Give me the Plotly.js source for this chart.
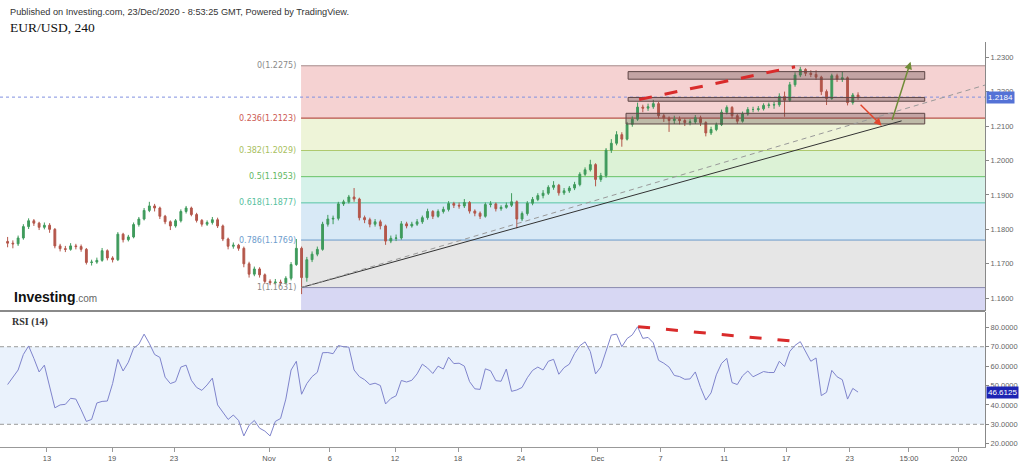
<!DOCTYPE html>
<html><head><meta charset="utf-8">
<script src="https://cdn.plot.ly/plotly-3.0.1.min.js"></script>
<style>html,body{margin:0;padding:0;background:#fff;overflow:hidden}#chart{width:1024px;height:464px}</style>
</head><body><div id="chart"></div>
<script>
// ---- Data (8h sessions, EUR/USD) ----
const opens=[1.1765,1.1760,1.1758,1.1775,1.1808,1.1825,1.1818,1.1806,1.1812,1.1800,
1.1752,1.1744,1.1742,1.1752,1.1750,1.1742,1.1704,1.1705,1.1710,1.1738,
1.1717,1.1712,1.1786,1.1770,1.1778,1.1814,1.1830,1.1855,1.1868,1.1862,
1.1838,1.1822,1.1810,1.1825,1.1852,1.1862,1.1843,1.1826,1.1815,1.1820,
1.1828,1.1810,1.1772,1.1751,1.1754,1.1745,1.1700,1.1670,1.1685,1.1668,
1.1649,1.1645,1.1647,1.1645,1.1658,1.1698,1.1745,1.1660,1.1712,1.1728,
1.1742,1.1815,1.1830,1.1832,1.1874,1.1880,1.1894,1.1888,1.1834,1.1828,
1.1815,1.1822,1.1810,1.1766,1.1774,1.1775,1.1816,1.1810,1.1815,1.1822,
1.1834,1.1852,1.1838,1.1852,1.1858,1.1875,1.1870,1.1868,1.1878,1.1853,
1.1847,1.1838,1.1872,1.1874,1.1860,1.1864,1.1870,1.1880,1.1830,1.1846,
1.1876,1.1887,1.1898,1.1905,1.1922,1.1928,1.1906,1.1912,1.1920,1.1930,
1.1960,1.1973,1.1988,1.1945,1.1956,1.2030,1.2050,1.2075,1.2062,1.2105,
1.2120,1.2155,1.2152,1.2156,1.2165,1.2130,1.2123,1.2116,1.2120,1.2116,
1.2110,1.2112,1.2124,1.2110,1.2080,1.2090,1.2104,1.2140,1.2154,1.2130,
1.2114,1.2135,1.2148,1.2148,1.2150,1.2160,1.2161,1.2162,1.2186,1.2175,
1.2220,1.2248,1.2264,1.2253,1.2250,1.2242,1.2200,1.2180,1.2246,1.2236,
1.2240,1.2168,1.2190];
const closes=[1.1760,1.1758,1.1775,1.1808,1.1825,1.1818,1.1806,1.1812,1.1800,1.1752,
1.1744,1.1742,1.1752,1.1750,1.1742,1.1704,1.1705,1.1710,1.1738,1.1717,
1.1712,1.1786,1.1770,1.1778,1.1814,1.1830,1.1855,1.1868,1.1862,1.1838,
1.1822,1.1810,1.1825,1.1852,1.1862,1.1843,1.1826,1.1815,1.1820,1.1828,
1.1810,1.1772,1.1751,1.1754,1.1745,1.1700,1.1670,1.1685,1.1668,1.1649,
1.1645,1.1647,1.1645,1.1658,1.1698,1.1745,1.1660,1.1712,1.1728,1.1742,
1.1815,1.1830,1.1832,1.1874,1.1880,1.1894,1.1888,1.1834,1.1828,1.1815,
1.1822,1.1810,1.1766,1.1774,1.1775,1.1816,1.1810,1.1815,1.1822,1.1834,
1.1852,1.1838,1.1852,1.1858,1.1875,1.1870,1.1868,1.1878,1.1853,1.1847,
1.1838,1.1872,1.1874,1.1860,1.1864,1.1870,1.1880,1.1830,1.1846,1.1876,
1.1887,1.1898,1.1905,1.1922,1.1928,1.1906,1.1912,1.1920,1.1930,1.1960,
1.1973,1.1988,1.1945,1.1956,1.2030,1.2050,1.2075,1.2062,1.2105,1.2120,
1.2155,1.2152,1.2156,1.2165,1.2130,1.2123,1.2116,1.2120,1.2116,1.2110,
1.2112,1.2124,1.2110,1.2080,1.2090,1.2104,1.2140,1.2154,1.2130,1.2114,
1.2135,1.2148,1.2148,1.2150,1.2160,1.2161,1.2162,1.2186,1.2175,1.2220,
1.2248,1.2264,1.2253,1.2250,1.2242,1.2200,1.2180,1.2246,1.2236,1.2240,
1.2168,1.2190,1.2184];
const highs=[1.1778,1.1768,1.1782,1.1815,1.1832,1.1830,1.1822,1.1820,1.1818,1.1804,
1.1758,1.1752,1.1760,1.1758,1.1756,1.1746,1.1712,1.1718,1.1746,1.1742,
1.1722,1.1792,1.1790,1.1784,1.1820,1.1836,1.1862,1.1880,1.1874,1.1866,
1.1842,1.1826,1.1830,1.1858,1.1868,1.1866,1.1848,1.1830,1.1826,1.1836,
1.1834,1.1814,1.1776,1.1762,1.1758,1.1750,1.1706,1.1692,1.1690,1.1672,
1.1655,1.1656,1.1654,1.1664,1.1705,1.1772,1.1750,1.1720,1.1736,1.1750,
1.1822,1.1842,1.1840,1.1880,1.1886,1.1900,1.1920,1.1892,1.1840,1.1834,
1.1830,1.1828,1.1814,1.1782,1.1785,1.1824,1.1822,1.1822,1.1830,1.1840,
1.1860,1.1856,1.1858,1.1866,1.1882,1.1880,1.1878,1.1888,1.1882,1.1858,
1.1852,1.1878,1.1882,1.1878,1.1870,1.1878,1.1905,1.1884,1.1852,1.1882,
1.1894,1.1905,1.1914,1.1928,1.1940,1.1932,1.1920,1.1926,1.1938,1.1966,
1.1980,1.2002,1.1992,1.1964,1.2036,1.2062,1.2085,1.2082,1.2112,1.2128,
1.2168,1.2162,1.2165,1.2176,1.2170,1.2136,1.2128,1.2130,1.2128,1.2122,
1.2120,1.2132,1.2130,1.2114,1.2098,1.2110,1.2148,1.2160,1.2158,1.2135,
1.2142,1.2155,1.2156,1.2158,1.2166,1.2168,1.2170,1.2195,1.2200,1.2228,
1.2256,1.2272,1.2268,1.2262,1.2262,1.2246,1.2206,1.2252,1.2252,1.2258,
1.2244,1.2196,1.2198];
const lows=[1.1748,1.1745,1.1752,1.1770,1.1801,1.1810,1.1798,1.1800,1.1790,1.1745,
1.1736,1.1734,1.1738,1.1742,1.1735,1.1698,1.1695,1.1700,1.1706,1.1710,
1.1704,1.1708,1.1762,1.1765,1.1774,1.1808,1.1826,1.1850,1.1852,1.1830,
1.1815,1.1798,1.1805,1.1820,1.1846,1.1838,1.1820,1.1808,1.1810,1.1814,
1.1804,1.1766,1.1742,1.1744,1.1738,1.1690,1.1660,1.1664,1.1660,1.1642,
1.1638,1.1640,1.1636,1.1640,1.1652,1.1694,1.1612,1.1648,1.1705,1.1722,
1.1738,1.1808,1.1815,1.1826,1.1868,1.1875,1.1880,1.1826,1.1818,1.1806,
1.1808,1.1800,1.1755,1.1760,1.1766,1.1770,1.1803,1.1805,1.1810,1.1816,
1.1828,1.1830,1.1834,1.1846,1.1852,1.1862,1.1860,1.1862,1.1846,1.1838,
1.1830,1.1834,1.1864,1.1852,1.1854,1.1860,1.1865,1.1803,1.1824,1.1840,
1.1870,1.1882,1.1890,1.1900,1.1915,1.1898,1.1900,1.1906,1.1914,1.1925,
1.1955,1.1968,1.1925,1.1938,1.1950,1.2022,1.2044,1.2040,1.2058,1.2098,
1.2115,1.2140,1.2144,1.2150,1.2122,1.2112,1.2083,1.2106,1.2105,1.2100,
1.2102,1.2106,1.2100,1.2070,1.2074,1.2085,1.2100,1.2134,1.2122,1.2106,
1.2110,1.2130,1.2140,1.2142,1.2145,1.2152,1.2150,1.2156,1.2127,1.2170,
1.2214,1.2242,1.2245,1.2242,1.2234,1.2190,1.2161,1.2176,1.2228,1.2228,
1.2160,1.2162,1.2176];
const rsi=[50.5,54,58,66,70.4,64,57,60.5,50,38.5,
40,40.3,43.4,43,37.5,31.5,32.5,41,41.8,42,
51,63.5,57.5,62,69.2,71.3,76.5,71.7,66,64.5,
54.3,51,52,59.5,60.5,52.7,49,47.5,50.3,53.8,
40,36,32.5,34.8,32,24,29.5,32,28,26.5,
24,31.5,33,43,58,62.5,45.5,51,54.6,56.8,
66.9,67,66.4,70.6,70,69.8,58,54.6,53,50.5,
51.2,50,40.5,43.3,44.7,52.6,51.8,52.7,56,61,
59,56.2,60,58.5,64.6,61.3,61.5,60,52,48.3,
48,58.6,57.6,52.5,52.2,58.5,47,47.7,49,54,
57.8,59.5,58,62.5,63.5,55.8,59.2,61,66.5,70.5,
72.5,67.5,56,59.5,67.5,76,76.5,70,74.2,76.1,
80.3,74.3,74.8,72,63,61.5,59.5,55.2,54.6,53.2,
53.4,57,49,42.5,46.2,55.5,61.4,64,51.5,50.5,
55,57.5,54.5,55.8,57.2,56.7,56.7,62.5,59.8,67.6,
70.7,72.6,67.5,62.5,64.2,44.8,46.5,57.8,54.5,53,
43,48.5,46.6125];
const tickIdx=[7.5,19.9,31.7,49.8,61.4,73.8,85.8,97.8,112.4,124.4,136.5,148.3,160.4,171.7,181.2];
const tickText=['13','19','23','Nov','6','12','18','24','Dec','7','11','17','23','15:00','2020'];
const priceTicks=[1.16,1.17,1.18,1.19,1.20,1.21,1.22,1.23];
const rsiTicks=[20,30,40,50,60,70,80];
const fibRatios=['0','0.236','0.382','0.5','0.618','0.786','1'];
const fibPrices=[1.2275,1.2123,1.2029,1.1953,1.1877,1.1769,1.1631];
const lastPrice=1.2184;

// ---- Styling / drawing anchors ----
const xRange=[-1.45,186.2], priceRange=[1.1563,1.2344], rsiRange=[18.3,87.9];
const fibStart=55.9;
const fibFills=['#f5d2d2','#eef4d8','#dcf2d6','#d6f2ea','#d8e9f6','#e6e6e6','#d7d7f3'];
const fibLines=['#a58a8a','#b9534b','#aec96e','#66c266','#55c4a4','#6a9acb','#8a8aae'];
const fibText=['#8a8a8a','#cc5a52','#a8c060','#62b862','#58bf9e','#6d9ccd','#8a8a8a'];
const idx=closes.map((_,i)=>i);

const traces=[
 {type:'candlestick',x:idx,open:opens,high:highs,low:lows,close:closes,xaxis:'x',yaxis:'y',
  increasing:{line:{color:'#3f9b5c',width:1},fillcolor:'#3f9b5c'},
  decreasing:{line:{color:'#b4574b',width:1},fillcolor:'#b4574b'},
  whiskerwidth:0,hoverinfo:'skip',showlegend:false},
 {type:'scatter',mode:'lines',x:idx,y:rsi,xaxis:'x2',yaxis:'y2',
  line:{color:'#7f84cc',width:1},hoverinfo:'skip',showlegend:false}
];

const shapes=[];
fibPrices.forEach((p,k)=>{
  const bot=k<fibPrices.length-1?fibPrices[k+1]:priceRange[0];
  shapes.push({type:'rect',xref:'x',yref:'y',x0:fibStart,x1:xRange[1],y0:bot,y1:p,fillcolor:fibFills[k],line:{width:0},layer:'below'});
});
fibPrices.forEach((p,k)=>{
  shapes.push({type:'line',xref:'x',yref:'y',x0:fibStart,x1:xRange[1],y0:p,y1:p,line:{color:fibLines[k],width:k===1?1.4:1},layer:'below'});
});
// RSI band & levels
shapes.push({type:'rect',xref:'x2',yref:'y2',x0:xRange[0],x1:xRange[1],y0:30,y1:70,fillcolor:'#eaf2fc',line:{width:0},layer:'below'});
[30,70].forEach(v=>shapes.push({type:'line',xref:'x2',yref:'y2',x0:xRange[0],x1:xRange[1],y0:v,y1:v,line:{color:'#9a9a9a',width:1,dash:'4px,3px'},layer:'below'}));
// current price dotted line
shapes.push({type:'line',xref:'x',yref:'y',x0:xRange[0],x1:xRange[1],y0:lastPrice,y1:lastPrice,line:{color:'#8090e0',width:1,dash:'dot'},layer:'below'});
// support / resistance boxes
[[118.2,174.7,1.2236,1.2258],[118.2,174.7,1.2172,1.2183],[117.8,174.7,1.2106,1.2137]].forEach(b=>{
  shapes.push({type:'rect',xref:'x',yref:'y',x0:b[0],x1:b[1],y0:b[2],y1:b[3],fillcolor:'rgba(95,70,70,0.33)',line:{color:'#5e4646',width:1}});
});
// trendlines
shapes.push({type:'line',xref:'x',yref:'y',x0:fibStart,y0:1.1631,x1:170.3,y1:1.2115,line:{color:'#333',width:1}});
shapes.push({type:'line',xref:'x',yref:'y',x0:fibStart,y0:1.1631,x1:xRange[1],y1:1.2219,line:{color:'#999',width:1,dash:'5px,4px'}});
shapes.push({type:'line',xref:'x',yref:'y',x0:120.3,y0:1.2177,x1:150.0,y1:1.2272,line:{color:'#d92b2b',width:3,dash:'13px,13px'}});
shapes.push({type:'line',xref:'x2',yref:'y2',x0:120.1,y0:80.3,x1:150.6,y1:72.6,line:{color:'#d92b2b',width:3,dash:'12px,16px'}});
// pane separator
shapes.push({type:'line',xref:'paper',yref:'paper',x0:0,x1:0.962,y0:1-311/464,y1:1-311/464,line:{color:'#8a8a8a',width:2}});

const annotations=[];
fibPrices.forEach((p,k)=>annotations.push({xref:'x',yref:'y',x:fibStart-0.5,y:p,xanchor:'right',yanchor:'middle',showarrow:false,
  text:fibRatios[k]+'('+p.toFixed(4)+')',font:{family:'DejaVu Sans',size:8,color:fibText[k]}}));
annotations.push({xref:'x',yref:'y',axref:'x',ayref:'y',x:166.5,y:1.2101,ax:162.2,ay:1.2166,showarrow:true,arrowhead:2,arrowsize:1,arrowwidth:1.5,arrowcolor:'#e2452c',text:''});
annotations.push({xref:'x',yref:'y',axref:'x',ayref:'y',x:172.0,y:1.2287,ax:168.4,ay:1.2113,showarrow:true,arrowhead:2,arrowsize:1,arrowwidth:1.5,arrowcolor:'#6f8c38',text:''});
annotations.push({xref:'paper',yref:'paper',x:8/1024,y:1-12/464,xanchor:'left',yanchor:'middle',showarrow:false,
  text:'Published on Investing.com, 23/Dec/2020 - 8:53:25 GMT, Powered by TradingView.',font:{family:'Liberation Sans',size:9.2,color:'#333'}});
annotations.push({xref:'paper',yref:'paper',x:8/1024,y:1-27/464,xanchor:'left',yanchor:'middle',showarrow:false,
  text:'EUR/USD, 240',font:{family:'Liberation Serif',size:13.5,color:'#111'}});
annotations.push({xref:'paper',yref:'paper',x:10/1024,y:1-322/464,xanchor:'left',yanchor:'middle',showarrow:false,
  text:'<b>RSI (14)</b>',font:{family:'Liberation Serif',size:10,color:'#333'}});
annotations.push({xref:'paper',yref:'paper',x:12/1024,y:1-297/464,xanchor:'left',yanchor:'middle',showarrow:false,
  text:'<b>Investing</b><span style="font-size:10px;color:#666">.com</span>',font:{family:'Liberation Sans',size:14,color:'#111'}});
annotations.push({xref:'paper',yref:'y',x:0.9625,y:lastPrice,xanchor:'left',yanchor:'middle',showarrow:false,
  text:lastPrice.toFixed(4),bgcolor:'#5472d6',borderpad:1,font:{family:'Liberation Sans',size:8,color:'#fff'}});
annotations.push({xref:'paper',yref:'y2',x:0.9625,y:rsi[rsi.length-1],xanchor:'left',yanchor:'middle',showarrow:false,
  text:rsi[rsi.length-1].toFixed(4),bgcolor:'#1d24b3',borderpad:1,font:{family:'Liberation Sans',size:8,color:'#fff'}});

const tickFont={family:'Liberation Sans',size:7.5,color:'#666'};
const layout={
  width:1024,height:464,autosize:false,margin:{l:0,r:0,t:0,b:0},
  paper_bgcolor:'#fff',plot_bgcolor:'#fff',showlegend:false,boxgap:0.5,
  xaxis:{domain:[0,0.962],range:xRange,anchor:'y',showticklabels:false,showgrid:false,zeroline:false,showline:false,ticks:'',rangeslider:{visible:false},fixedrange:true},
  yaxis:{domain:[1-311/464,1-42/464],range:priceRange,side:'right',anchor:'x',tickvals:priceTicks,ticktext:priceTicks.map(v=>v.toFixed(4)),
    tickfont:tickFont,ticks:'outside',ticklen:3,tickcolor:'#888',showline:true,linecolor:'#888',linewidth:1,showgrid:false,zeroline:false,automargin:false,fixedrange:true},
  xaxis2:{domain:[0,0.962],range:xRange,anchor:'y2',tickvals:tickIdx,ticktext:tickText,tickfont:{family:'Liberation Sans',size:7.5,color:'#555'},
    ticks:'outside',ticklen:4,tickcolor:'#999',showline:true,linecolor:'#999',showgrid:false,zeroline:false,automargin:false,fixedrange:true},
  yaxis2:{domain:[1-447/464,1-312/464],range:rsiRange,side:'right',anchor:'x2',tickvals:rsiTicks,ticktext:rsiTicks.map(v=>v.toFixed(4)),
    tickfont:tickFont,ticks:'outside',ticklen:3,tickcolor:'#888',showline:true,linecolor:'#888',showgrid:false,zeroline:false,automargin:false,fixedrange:true},
  shapes:shapes,annotations:annotations
};
Plotly.newPlot('chart',traces,layout,{displayModeBar:false,staticPlot:true});
</script></body></html>
